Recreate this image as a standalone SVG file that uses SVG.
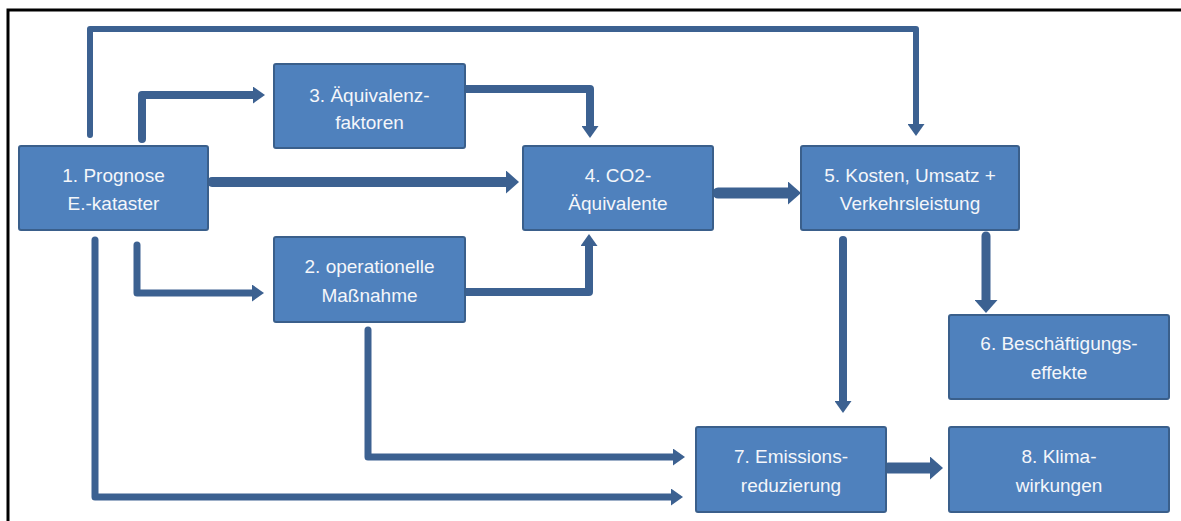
<svg xmlns="http://www.w3.org/2000/svg" width="1181" height="521" viewBox="0 0 1181 521">
  <style>
    .box { fill: #4F81BD; stroke: #3A5F8B; stroke-width: 2; }
    .lbl { font-family: "Liberation Sans", Arial, sans-serif; font-size: 19px; fill: #F4F6FA; text-anchor: middle; }
    .con { fill: none; stroke: #3C6191; stroke-linejoin: round; stroke-linecap: round; }
  </style>
  <defs>
    <marker id="ah" viewBox="0 0 10 10" refX="0" refY="5" markerUnits="userSpaceOnUse" markerWidth="12" markerHeight="17" orient="auto" preserveAspectRatio="none">
      <path d="M0,0 L10,5 L0,10 z" fill="#3C6191"/>
    </marker>
    <marker id="ahB" viewBox="0 0 10 10" refX="0" refY="5" markerUnits="userSpaceOnUse" markerWidth="13" markerHeight="23" orient="auto" preserveAspectRatio="none">
      <path d="M0,0 L10,5 L0,10 z" fill="#3C6191"/>
    </marker>
  </defs>
  <rect width="1181" height="521" fill="#FFFFFF"/>
  <path d="M8,521 V10 H1181" fill="none" stroke="#000000" stroke-width="3"/>

  <g id="connectors">
    <path class="con" stroke-width="6" d="M90,135 V29 H916 V124" marker-end="url(#ah)"/>
    <path class="con" stroke-width="8" d="M142,139 V95 H253" marker-end="url(#ah)"/>
    <path class="con" stroke-width="10" stroke-linecap="butt" d="M212,182 H506" marker-end="url(#ahB)"/>
    <path class="con" stroke-width="8" d="M466,89 H590 V126" marker-end="url(#ah)"/>
    <path class="con" stroke-width="11" stroke-linecap="butt" d="M718,193 H788" marker-end="url(#ahB)"/>
    <path class="con" stroke-width="7" d="M137,245 V293 H252" marker-end="url(#ah)"/>
    <path class="con" stroke-width="8" d="M466,292 H589 V246" marker-end="url(#ah)"/>
    <path class="con" stroke-width="7" d="M95,240 V497 H671" marker-end="url(#ah)"/>
    <path class="con" stroke-width="7" d="M368,330 V457 H673" marker-end="url(#ah)"/>
    <path class="con" stroke-width="8" stroke-linecap="butt" d="M843,240 V401" marker-end="url(#ah)"/>
    <path class="con" stroke-width="9" stroke-linecap="butt" d="M986,236 V300" marker-end="url(#ahB)"/>
    <path class="con" stroke-width="11" stroke-linecap="butt" d="M888,468 H930" marker-end="url(#ahB)"/>
  </g>

  <g id="node1">
    <rect class="box" x="19" y="146" width="189" height="84" rx="2"/>
    <text class="lbl" x="113.5" y="182">1. Prognose</text>
    <text class="lbl" x="113.5" y="210">E.-kataster</text>
  </g>
  <g id="node2">
    <rect class="box" x="274" y="237" width="191" height="85" rx="2"/>
    <text class="lbl" x="369.5" y="273">2. operationelle</text>
    <text class="lbl" x="369.5" y="302">Maßnahme</text>
  </g>
  <g id="node3">
    <rect class="box" x="274" y="64" width="191" height="84" rx="2"/>
    <text class="lbl" x="369.5" y="102">3. Äquivalenz-</text>
    <text class="lbl" x="369.5" y="129">faktoren</text>
  </g>
  <g id="node4">
    <rect class="box" x="523" y="146" width="190" height="84" rx="2"/>
    <text class="lbl" x="618" y="182">4. CO2-</text>
    <text class="lbl" x="618" y="210">Äquivalente</text>
  </g>
  <g id="node5">
    <rect class="box" x="801" y="146" width="218" height="84" rx="2"/>
    <text class="lbl" x="910" y="182">5. Kosten, Umsatz +</text>
    <text class="lbl" x="910" y="210">Verkehrsleistung</text>
  </g>
  <g id="node6">
    <rect class="box" x="949" y="315" width="220" height="84" rx="2"/>
    <text class="lbl" x="1059" y="350">6. Beschäftigungs-</text>
    <text class="lbl" x="1059" y="379">effekte</text>
  </g>
  <g id="node7">
    <rect class="box" x="696" y="427" width="190" height="85" rx="2"/>
    <text class="lbl" x="791" y="463">7. Emissions-</text>
    <text class="lbl" x="791" y="492">reduzierung</text>
  </g>
  <g id="node8">
    <rect class="box" x="949" y="427" width="220" height="85" rx="2"/>
    <text class="lbl" x="1059" y="463">8. Klima-</text>
    <text class="lbl" x="1059" y="492">wirkungen</text>
  </g>
</svg>
